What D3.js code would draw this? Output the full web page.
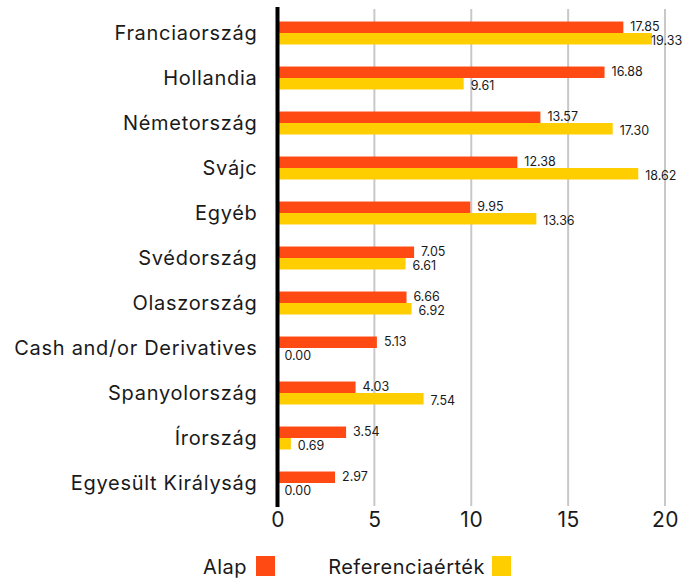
<!DOCTYPE html>
<html><head><meta charset="utf-8">
<script src="https://cdn.jsdelivr.net/npm/d3@7"></script>
<style>body{margin:0;background:#fff}svg{display:block}text{font-family:Inter,"Noto Sans",sans-serif;fill:#1a1a1a}</style>
</head><body><svg id="c" width="700" height="583"></svg>
<script>
const categories = ["Franciaország","Hollandia","Németország","Svájc","Egyéb","Svédország","Olaszország","Cash and/or Derivatives","Spanyolország","Írország","Egyesült Királyság"];
const alap = [17.85,16.88,13.57,12.38,9.95,7.05,6.66,5.13,4.03,3.54,2.97];
const referencia = [19.33,9.61,17.30,18.62,13.36,6.61,6.92,0.00,7.54,0.69,0.00];
const seriesNames = ["Alap","Referenciaérték"];
const colors = ["#FF4A14","#FFCE00"];
const ticks = [0,5,10,15,20];

const svg = d3.select("#c");
const x = d3.scaleLinear().domain([0,20]).range([277.5,665]);
const y0 = d3.scaleBand().domain(categories).range([10.5,505.5]).paddingInner(0.49).paddingOuter(0.245);
const y1 = d3.scaleBand().domain(seriesNames).range([0,y0.bandwidth()]);

// gridlines
svg.append("g").selectAll("line").data(ticks.slice(1)).join("line")
  .attr("x1",d=>x(d)).attr("x2",d=>x(d)).attr("y1",9).attr("y2",506)
  .attr("stroke","#c8c8c8").attr("stroke-width",2);

// x axis tick labels
const xAxis = d3.axisBottom(x).tickValues(ticks).tickSize(0).tickPadding(0);
const gx = svg.append("g").attr("transform","translate(0,508)").call(xAxis);
gx.select(".domain").remove();
gx.selectAll("text").attr("font-size",21).attr("dy","0.9em").style("font-family","Inter, sans-serif").style("letter-spacing","0.5px").attr("fill","#1a1a1a");

const data = categories.map((c,i)=>({c, vals:[alap[i],referencia[i]]}));
const g = svg.append("g").selectAll("g").data(data).join("g")
  .attr("transform",d=>`translate(0,${y0(d.c)})`);
g.selectAll("rect").data(d=>d.vals.map((v,j)=>({v,j}))).join("rect")
  .attr("x",x(0)).attr("y",d=>y1(seriesNames[d.j])).attr("height",y1.bandwidth())
  .attr("width",d=>x(d.v)-x(0)).attr("fill",d=>colors[d.j]);
g.selectAll("text.v").data(d=>d.vals.map((v,j)=>({v,j}))).join("text").attr("class","v")
  .attr("x",d=>Math.min(x(d.v)+7, 651))
  .attr("y",d=>y1(seriesNames[d.j])+y1.bandwidth()/2+(d.j===0?-0.5:2))
  .attr("dy","0.35em").attr("font-size",12.5).text(d=>d.v.toFixed(2));

// y axis labels
const yAxis = d3.axisLeft(y0).tickSize(0).tickPadding(0);
const gy = svg.append("g").attr("transform","translate(257.5,1)").call(yAxis);
gy.select(".domain").remove();
gy.selectAll("text").attr("font-size",20).style("font-family","Inter, sans-serif").style("letter-spacing","0.7px").attr("fill","#1a1a1a");

// zero line
svg.append("line").attr("x1",x(0)).attr("x2",x(0)).attr("y1",7).attr("y2",507)
  .attr("stroke","#000").attr("stroke-width",4);

// legend
const leg = [{t:"Alap",tx:247,sx:256},{t:"Referenciaérték",tx:485,sx:492}];
leg.forEach((l,i)=>{
  svg.append("text").attr("x",l.tx).attr("y",567).attr("dy","0.35em").attr("text-anchor","end")
    .attr("font-size",20).style("letter-spacing","0.5px").text(l.t);
  svg.append("rect").attr("x",l.sx).attr("y",556).attr("width",19).attr("height",20).attr("fill",colors[i]);
});
</script></body></html>
